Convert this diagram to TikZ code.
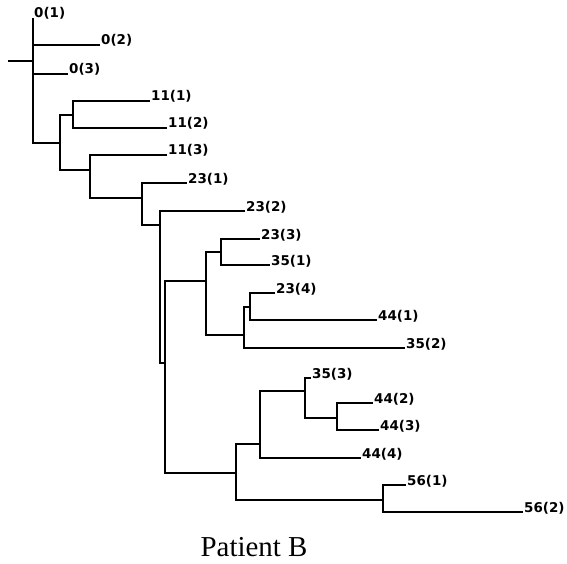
\documentclass[tikz,border=0pt]{standalone}
\usepackage{fontspec}
\setmainfont{Liberation Serif}
\newfontfamily\tiplabelfont{DejaVu Sans}
\tikzset{
  branch/.style={line width=2bp},
  tip/.style={anchor=base west,inner sep=0pt,xshift=1bp,
    font=\tiplabelfont\bfseries\fontsize{13.5}{15}\selectfont},
  caption/.style={font=\fontsize{29}{32}\selectfont}
}
\begin{document}
\begin{tikzpicture}[x=1bp,y=-1bp]
  \useasboundingbox (0,0) rectangle (567,564);
  % inner nodes of the tree
  \foreach \n/\x/\y in {r/33/61, n1/60/143, n2/73/115, n3/90/170,
      n4/142/198, n5/160/225, n6/165/363, n7/206/281, n8/236/473,
      n9/221/252, n10/244/335, n11/250/307, n12/260/444, n13/383/500,
      n14/305/391, n15/337/418}
    \coordinate (\n) at (\x,\y);
  % tips with their labels
  \foreach \n/\x/\y/\t in {l01/33/18/{0(1)}, l02/100/45/{0(2)}, l03/68/74/{0(3)},
      l111/150/101/{11(1)}, l112/167/128/{11(2)}, l113/167/155/{11(3)},
      l231/187/183/{23(1)}, l232/245/211/{23(2)}, l233/260/239/{23(3)},
      l351/270/265/{35(1)}, l234/275/293/{23(4)}, l441/377/320/{44(1)},
      l352/405/348/{35(2)}, l353/311/378/{35(3)}, l442/373/403/{44(2)},
      l443/379/430/{44(3)}, l444/361/458/{44(4)}, l561/406/485/{56(1)},
      l562/523/512/{56(2)}}
  {
    \coordinate (\n) at (\x,\y);
    \node[tip] (\n-lab) at (\n) {\t};
  }
  \coordinate (stub) at (8,61);
  \draw[branch] (stub) -- (r);
  \foreach \p/\c in {r/l01, r/l02, r/l03, r/n1, n1/n2, n1/n3, n2/l111, n2/l112,
      n3/l113, n3/n4, n4/l231, n4/n5, n5/l232, n5/n6, n6/n7, n6/n8,
      n7/n9, n7/n10, n9/l233, n9/l351, n10/n11, n10/l352, n11/l234, n11/l441,
      n8/n12, n8/n13, n12/n14, n12/l444, n14/l353, n14/n15, n15/l442, n15/l443,
      n13/l561, n13/l562}
    \draw[branch] (\p) |- (\c);
  \node[caption] (title) at (254,547) {Patient B};
\end{tikzpicture}
\end{document}
